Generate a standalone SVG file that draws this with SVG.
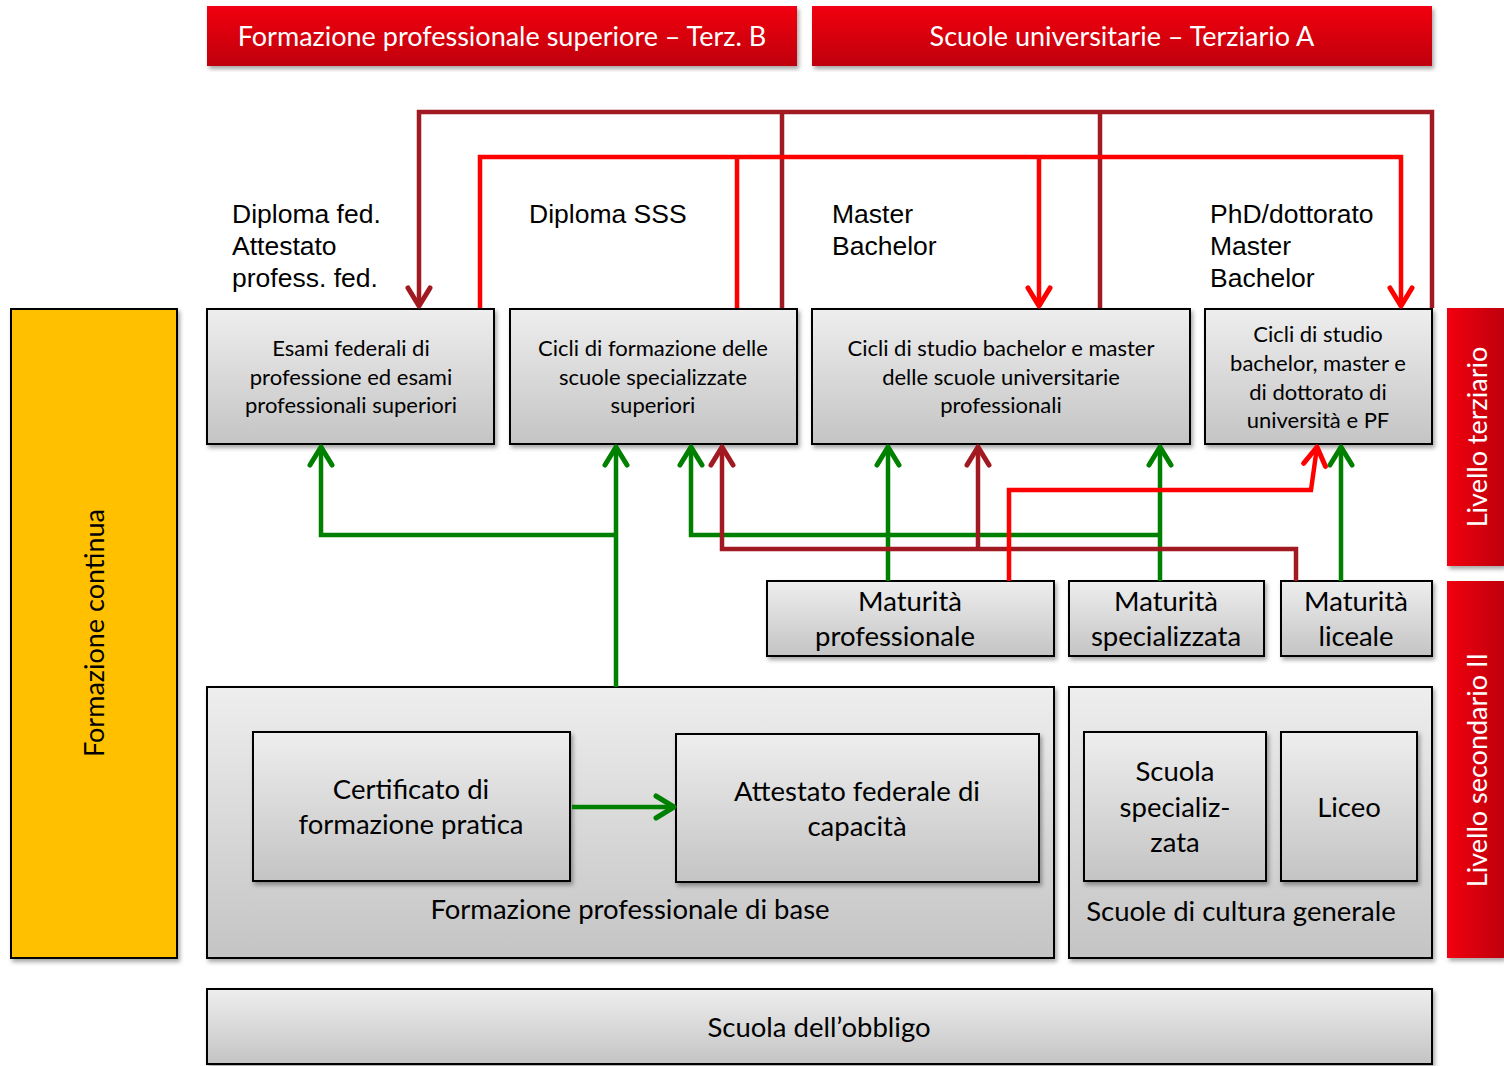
<svg xmlns="http://www.w3.org/2000/svg" width="1504" height="1066" viewBox="0 0 1504 1066">
<defs>
<linearGradient id="gGray" x1="0" y1="0" x2="0" y2="1"><stop offset="0" stop-color="#eeeeee"/><stop offset="1" stop-color="#c4c4c4"/></linearGradient>
<linearGradient id="gRed" x1="0" y1="0" x2="0" y2="1"><stop offset="0" stop-color="#f20012"/><stop offset="1" stop-color="#bf0008"/></linearGradient>
<linearGradient id="gRedH" x1="0" y1="0" x2="1" y2="0"><stop offset="0" stop-color="#f20012"/><stop offset="1" stop-color="#bf0008"/></linearGradient>
<filter id="sh" x="-5%" y="-5%" width="112%" height="115%"><feDropShadow dx="2" dy="3" stdDeviation="2" flood-color="#000" flood-opacity="0.35"/></filter>
<marker id="aG" markerUnits="userSpaceOnUse" viewBox="-24 -16 28 32" markerWidth="28" markerHeight="32" refX="0" refY="0" orient="auto" overflow="visible"><path d="M-18,-11 L0,0 L-18,11" fill="none" stroke="#008000" stroke-width="5" stroke-linecap="round" stroke-linejoin="round"/></marker>
<marker id="aR" markerUnits="userSpaceOnUse" viewBox="-24 -16 28 32" markerWidth="28" markerHeight="32" refX="0" refY="0" orient="auto" overflow="visible"><path d="M-18,-11 L0,0 L-18,11" fill="none" stroke="#ff0000" stroke-width="5" stroke-linecap="round" stroke-linejoin="round"/></marker>
<marker id="aD" markerUnits="userSpaceOnUse" viewBox="-24 -16 28 32" markerWidth="28" markerHeight="32" refX="0" refY="0" orient="auto" overflow="visible"><path d="M-18,-11 L0,0 L-18,11" fill="none" stroke="#a11a22" stroke-width="5" stroke-linecap="round" stroke-linejoin="round"/></marker>
</defs>
<style>
.box{fill:url(#gGray);stroke:#000;stroke-width:2;filter:url(#sh)}
.ban{fill:url(#gRed);filter:url(#sh)}
.banv{fill:url(#gRedH);filter:url(#sh)}
.c{font-family:Lato,"Open Sans","Liberation Sans",sans-serif;fill:#000;text-anchor:middle}
.w{font-family:Lato,"Open Sans","Liberation Sans",sans-serif;fill:#fff;text-anchor:middle}
.a{font-family:"Liberation Sans",Arial,sans-serif;fill:#000;font-size:26.5px}
.s{font-size:22px}
.m{font-size:27.5px}
.ln{fill:none;stroke-width:4.5;stroke-linejoin:miter}
.g{stroke:#008000}.r{stroke:#ff0000}.d{stroke:#a11a22}
</style>
<rect width="1504" height="1066" fill="#fff"/>

<g id="banner-terzB"><rect class="ban" x="207" y="6" width="590" height="60"/><text class="w" x="502" y="46" font-size="27">Formazione professionale superiore – Terz. B</text></g>
<g id="banner-terzA"><rect class="ban" x="812" y="6" width="620" height="60"/><text class="w" x="1122" y="46" font-size="27">Scuole universitarie – Terziario A</text></g>

<g id="livello-terziario"><rect class="banv" x="1447" y="308" width="57" height="258"/><text class="w" font-size="27" transform="translate(1487,437) rotate(-90)">Livello terziario</text></g>
<g id="livello-secondario"><rect class="banv" x="1447" y="581" width="57" height="377"/><text class="w" font-size="27" transform="translate(1487,770) rotate(-90)">Livello secondario II</text></g>

<g id="formazione-continua"><rect x="11" y="309" width="166" height="649" fill="#ffc000" stroke="#000" stroke-width="2" filter="url(#sh)"/><text class="c" font-size="27" transform="translate(104,633) rotate(-90)">Formazione continua</text></g>

<g id="labels-top">
<text class="a" x="232" y="223">Diploma fed.</text>
<text class="a" x="232" y="255">Attestato</text>
<text class="a" x="232" y="287">profess. fed.</text>
<text class="a" x="529" y="223">Diploma SSS</text>
<text class="a" x="832" y="223">Master</text>
<text class="a" x="832" y="255">Bachelor</text>
<text class="a" x="1210" y="223">PhD/dottorato</text>
<text class="a" x="1210" y="255">Master</text>
<text class="a" x="1210" y="287">Bachelor</text>
</g>

<g id="esami-federali"><rect class="box" x="207" y="309" width="287" height="135"/>
<text class="c s" x="351" y="356">Esami federali di</text>
<text class="c s" x="351" y="385">professione ed esami</text>
<text class="c s" x="351" y="413">professionali superiori</text></g>

<g id="cicli-sss"><rect class="box" x="510" y="309" width="287" height="135"/>
<text class="c s" x="653" y="356">Cicli di formazione delle</text>
<text class="c s" x="653" y="385">scuole specializzate</text>
<text class="c s" x="653" y="413">superiori</text></g>

<g id="cicli-sup"><rect class="box" x="812" y="309" width="378" height="135"/>
<text class="c s" x="1001" y="356">Cicli di studio bachelor e master</text>
<text class="c s" x="1001" y="385">delle scuole universitarie</text>
<text class="c s" x="1001" y="413">professionali</text></g>

<g id="cicli-uni"><rect class="box" x="1205" y="309" width="227" height="135"/>
<text class="c s" x="1318" y="342">Cicli di studio</text>
<text class="c s" x="1318" y="371">bachelor, master e</text>
<text class="c s" x="1318" y="400">di dottorato di</text>
<text class="c s" x="1318" y="428">università e PF</text></g>

<g id="maturita-prof"><rect class="box" x="767" y="581" width="287" height="75"/>
<text class="c m" x="910" y="611">Maturità</text>
<text class="c m" x="895" y="646">professionale</text></g>

<g id="maturita-spec"><rect class="box" x="1069" y="581" width="195" height="75"/>
<text class="c m" x="1166" y="611">Maturità</text>
<text class="c m" x="1166" y="646">specializzata</text></g>

<g id="maturita-liceale"><rect class="box" x="1281" y="581" width="151" height="75"/>
<text class="c m" x="1356" y="611">Maturità</text>
<text class="c m" x="1356" y="646">liceale</text></g>

<g id="formazione-base"><rect class="box" x="207" y="687" width="847" height="271"/>
<text class="c m" x="630" y="919">Formazione professionale di base</text></g>

<g id="certificato"><rect class="box" x="253" y="732" width="317" height="149"/>
<text class="c m" x="411" y="799">Certificato di</text>
<text class="c m" x="411" y="834">formazione pratica</text></g>

<g id="attestato"><rect class="box" x="676" y="734" width="363" height="148"/>
<text class="c m" x="857" y="801">Attestato federale di</text>
<text class="c m" x="857" y="836">capacità</text></g>

<g id="cultura-generale"><rect class="box" x="1069" y="687" width="363" height="271"/>
<text class="c m" x="1241" y="921">Scuole di cultura generale</text></g>

<g id="scuola-spec"><rect class="box" x="1084" y="732" width="182" height="149"/>
<text class="c m" x="1175" y="781">Scuola</text>
<text class="c m" x="1175" y="817">specializ-</text>
<text class="c m" x="1175" y="852">zata</text></g>

<g id="liceo"><rect class="box" x="1281" y="732" width="136" height="149"/>
<text class="c m" x="1349" y="817">Liceo</text></g>

<g id="scuola-obbligo"><rect class="box" x="207" y="989" width="1225" height="75"/>
<text class="c m" x="819" y="1037">Scuola dell’obbligo</text></g>

<g id="connectors">
<path class="ln d" d="M782,308 V112 M1100,308 V112 M1432,308 V112 H419 V306" marker-end="url(#aD)"/>
<path class="ln r" d="M480,308 V157 H1401 V306" marker-end="url(#aR)"/>
<path class="ln r" d="M737,308 V157"/>
<path class="ln r" d="M1039,157 V306" marker-end="url(#aR)"/>
<path class="ln g" d="M616,687 V447" marker-end="url(#aG)"/>
<path class="ln g" d="M616,535 H321 V447" marker-end="url(#aG)"/>
<path class="ln g" d="M888,581 V447" marker-end="url(#aG)"/>
<path class="ln g" d="M1160,581 V447" marker-end="url(#aG)"/>
<path class="ln g" d="M1160,535 H691 V447" marker-end="url(#aG)"/>
<path class="ln g" d="M1341,581 V447" marker-end="url(#aG)"/>
<path class="ln d" d="M1296,581 V549 H722 V447" marker-end="url(#aD)"/>
<path class="ln d" d="M978,549 V447" marker-end="url(#aD)"/>
<path class="ln r" d="M1009,581 V490 H1311 L1317,447" marker-end="url(#aR)"/>
<path class="ln g" d="M572,807 H674" marker-end="url(#aG)"/>
</g>
</svg>
